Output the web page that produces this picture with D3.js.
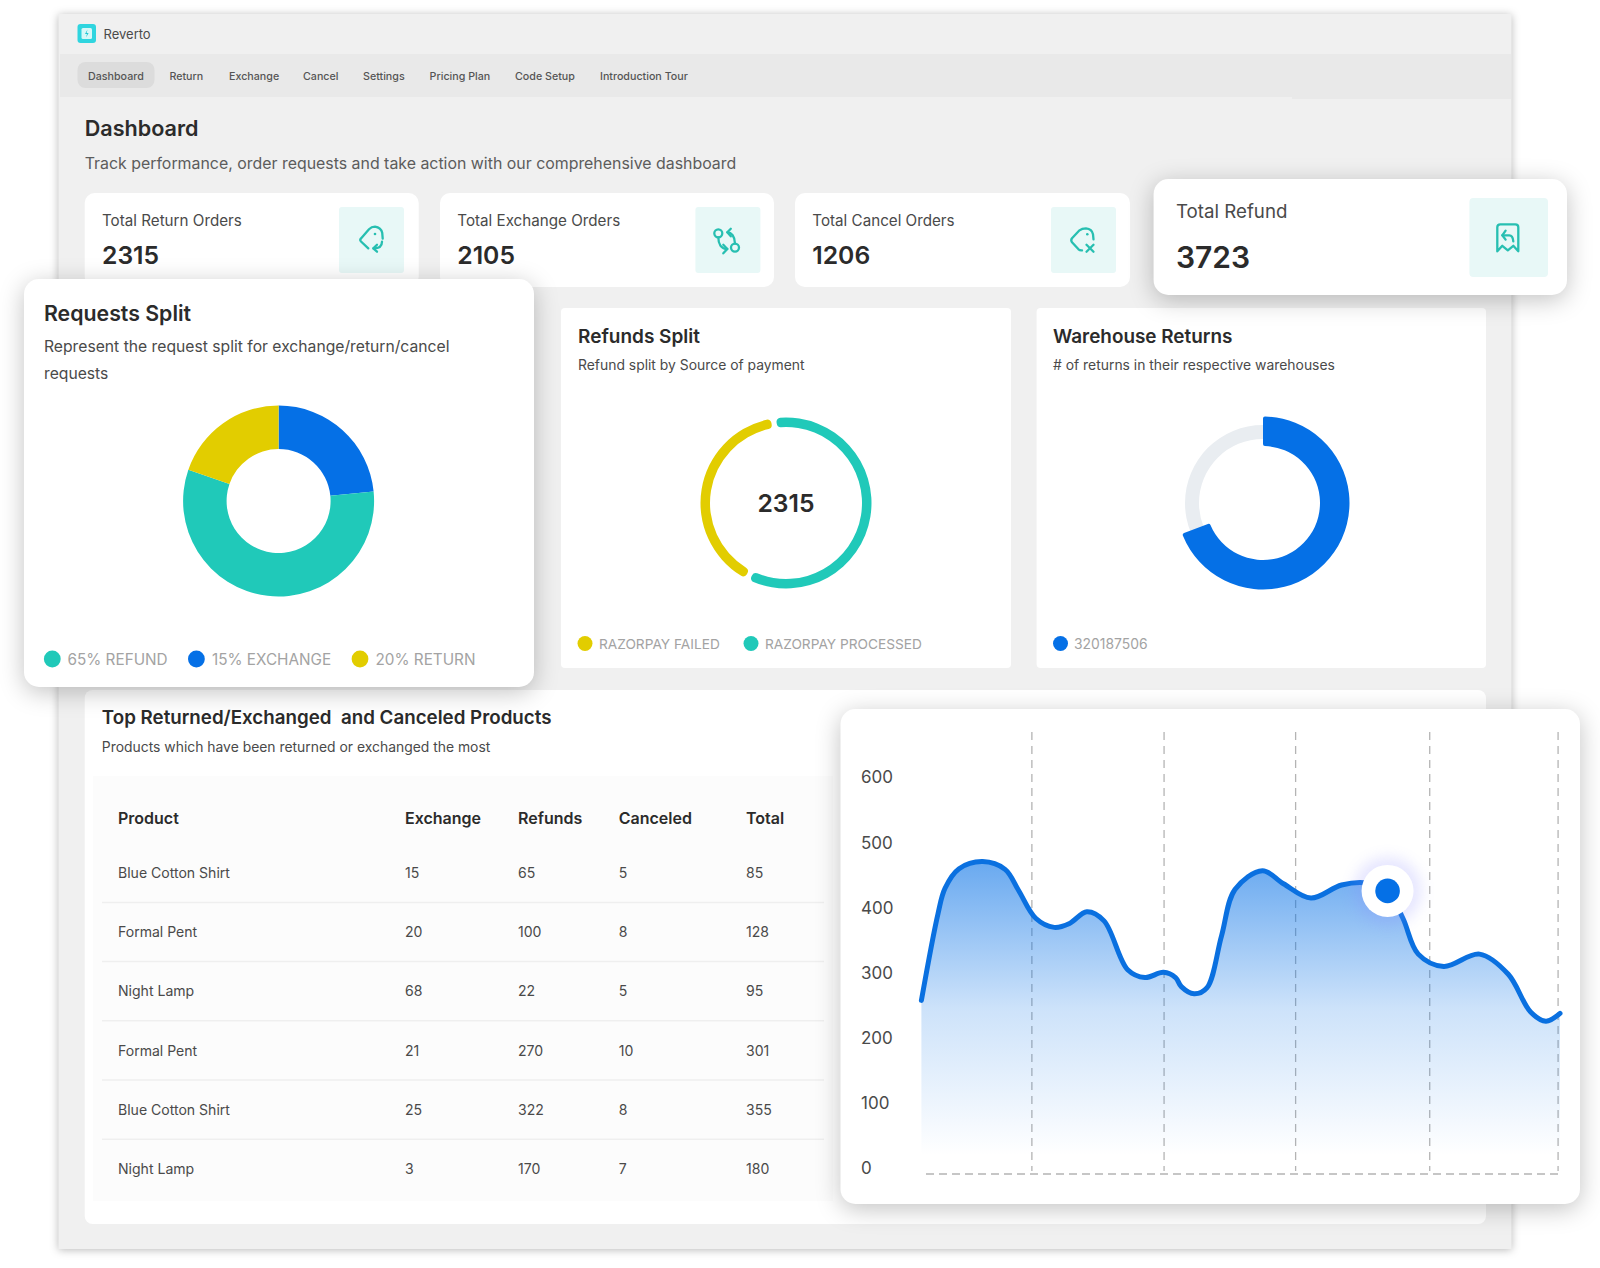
<!DOCTYPE html>
<html>
<head>
<meta charset="utf-8">
<script src="https://cdn.jsdelivr.net/npm/d3@7"></script>
<style>
    html, body { margin: 0; padding: 0; background: #fff; }
    svg { display: block; }
    text { font-family: Inter, "Noto Sans", sans-serif; }
</style>
</head>
<body>
<svg id="page" width="1600" height="1268"></svg>
<script>
// header nav
var navItems = ["Dashboard", "Return", "Exchange", "Cancel", "Settings", "Pricing Plan", "Code Setup", "Introduction Tour"];

// stat cards
var statLabels = ["Total Return Orders", "Total Exchange Orders", "Total Cancel Orders"];
var statValues = [2315, 2105, 1206];
var refundLabel = "Total Refund";
var refundValue = 3723;

// requests split donut (slice sizes as drawn, in percent of the ring)
var requestNames = ["Exchange", "Refund", "Return"];
var requestShares = [23.4, 56.9, 19.7];
var requestLegend = ["65% REFUND", "15% EXCHANGE", "20% RETURN"];

// refunds split ring
var refundNames = ["RAZORPAY PROCESSED", "RAZORPAY FAILED"];
var refundShares = [60, 40];
var refundTotal = 2315;
var refundLegend = ["RAZORPAY FAILED", "RAZORPAY PROCESSED"];

// warehouse returns ring
var warehouseId = "320187506";
var warehouseShare = 69.2;

// products table
var tableHeaders = ["Product", "Exchange", "Refunds", "Canceled", "Total"];
var tableProducts = ["Blue Cotton Shirt", "Formal Pent", "Night Lamp", "Formal Pent", "Blue Cotton Shirt", "Night Lamp"];
var tableExchange = [15, 20, 68, 21, 25, 3];
var tableRefunds = [65, 100, 22, 270, 322, 170];
var tableCanceled = [5, 8, 5, 10, 8, 7];
var tableTotal = [85, 128, 95, 301, 355, 180];

// area chart, x runs 0-100 along the plot width
var yTicks = [0, 100, 200, 300, 400, 500, 600];
var gridX = [17.3, 38, 58.6, 79.6, 99.7];
var areaX = [0, 2.6, 3.7, 5.9, 9.6, 13.1, 15.2, 17.9, 20.8, 23.2, 25.9, 28.6, 32.3, 35, 37.9, 39.8, 40.7, 42.7, 44.7,
    47, 49.1, 53.4, 56.7, 61, 65.8, 69.8, 73, 75.4, 77.8, 81.8, 87.4, 91.9, 95.4, 97.8, 100];
var areaY = [258, 391, 430, 460, 471, 459, 427, 384, 370, 376, 394, 380, 305, 293, 301, 293, 279, 268, 277,
    357, 428, 457, 437, 415, 435, 438, 426, 384, 329, 310, 329, 298, 240, 226, 238];
var markerIndex = 26;

var blue = "#0570e6", teal = "#20c9b9", yellow = "#e2cd00";
var dark = "#2b2b2b", mid = "#4a4a4a", soft = "#a3a3a3";

var svg = d3.select("#page");
var defs = svg.append("defs");

function addText(parent, x, y, str, size, weight, fill, anchor) {
    return parent.append("text")
        .attr("x", x)
        .attr("y", y)
        .attr("dominant-baseline", "central")
        .attr("text-anchor", anchor || "start")
        .style("font-size", size + "px")
        .style("font-weight", weight)
        .attr("fill", fill)
        .text(str);
}

function addCard(x, y, w, h, r, shadow) {
    var rect = svg.append("rect")
        .attr("x", x).attr("y", y)
        .attr("width", w).attr("height", h)
        .attr("rx", r)
        .attr("fill", "#fff");
    if(shadow) rect.style("filter", shadow);
    return rect;
}

var popShadow = "drop-shadow(0 5px 12px rgba(0,0,0,.24))";

// window frame
svg.append("rect")
    .attr("x", 58.5).attr("y", 14)
    .attr("width", 1453).attr("height", 1235)
    .attr("fill", "#f0f0f0")
    .style("filter", "drop-shadow(0 1px 4px rgba(0,0,0,.28))");

// nav band
svg.append("rect").attr("x", 60).attr("y", 54).attr("width", 1451).attr("height", 43).attr("fill", "#e9e9e9");
svg.append("rect").attr("x", 1292).attr("y", 97).attr("width", 219).attr("height", 2).attr("fill", "#e9e9e9");

// logo
svg.append("rect").attr("x", 77.5).attr("y", 24).attr("width", 18.5).attr("height", 19).attr("rx", 3).attr("fill", "#2fd5df");
svg.append("rect").attr("x", 81.5).attr("y", 28).attr("width", 10.5).attr("height", 11).attr("rx", 1.5).attr("fill", "#d8f8f8");
svg.append("path").attr("d", "M87.5 29.5 L85 34 H87 L86 37.5 L88.6 33 H86.6 Z").attr("fill", "#22c7d2");
addText(svg, 103.5, 33.5, "Reverto", 13, 400, mid);

// nav items
var navX = [88, 169.4, 229, 303, 363, 429.6, 515, 600];
svg.append("rect").attr("x", 77.5).attr("y", 62).attr("width", 77).attr("height", 26).attr("rx", 8).attr("fill", "#dcdcdc");
navItems.forEach(function(d, i) {
    addText(svg, navX[i], 76, d, 10.7, 500, "#555");
});

addText(svg, 84.7, 128, "Dashboard", 21.6, 600, dark);
addText(svg, 84.7, 163.4, "Track performance, order requests and take action with our comprehensive dashboard", 15.9, 400, "#5c5c5c");

// stat card icons, path data in a 24 unit box around the centre
var iconPaths = {
    tagReturn: ["M8.3 21.7 L1 14.8 Q-0.5 13.3 1 11.7 L9 2.5 Q11.5 0 15 0 Q21 1 22.2 6 L22.7 12", "M22 15 Q22 21.7 13.5 21.7", "M17 18 L13.3 21.7 L17 25"],
    swap: ["M5 9 C5 16 8 20.7 14 20.7", "M10 16.5 L14 20.7 L10 25", "M21.7 15.3 C21.7 8 18 4 14 4", "M17.5 0.5 L14 4 L17.5 8"],
    tagCancel: ["M11 22 Q9 22.3 7.5 21 L1 14 Q-0.5 12 1 10 L8.5 2 Q11 0 15 0 Q21 0.5 22 6 L22.5 11", "M15.5 16.5 L22.5 23.5", "M22.5 16.5 L15.5 23.5"],
    receipt: ["M0 25 V3 Q0 0 3 0 H18 Q21 0 21 3 V27 L16 21.5 L10.5 26 L5 21.5 L0 27 Z", "M8.3 6.3 L5 11 L8.3 15.3", "M5 11 H12 Q15.5 11 16 17"]
};
var iconDots = { tagReturn: [15, 7.3], swap: null, tagCancel: [16.3, 6], receipt: null };

function addIcon(name, cx, cy) {
    var g = svg.append("g").attr("transform", "translate(" + (cx - 12) + "," + (cy - 12) + ")");
    iconPaths[name].forEach(function(p) {
        g.append("path").attr("d", p).attr("fill", "none").attr("stroke", "#27bfb1")
            .attr("stroke-width", 2.3).attr("stroke-linecap", "round").attr("stroke-linejoin", "round");
    });
    if(iconDots[name]) g.append("circle").attr("cx", iconDots[name][0]).attr("cy", iconDots[name][1]).attr("r", 1.3).attr("fill", "#27bfb1");
    if(name === "swap") {
        g.append("circle").attr("cx", 5).attr("cy", 5).attr("r", 4).attr("fill", "none").attr("stroke", "#27bfb1").attr("stroke-width", 2.3);
        g.append("circle").attr("cx", 21.7).attr("cy", 19.3).attr("r", 4).attr("fill", "none").attr("stroke", "#27bfb1").attr("stroke-width", 2.3);
    }
}

// three plain stat cards
var statX = [84.7, 440, 795];
var statWidth = [334, 334, 335];
var statIconX = [339, 695.4, 1051];
var statIconNames = ["tagReturn", "swap", "tagCancel"];
var statIconCX = [372, 725.3, 1083];
var statIconCY = [238.7, 240.3, 240.3];
statLabels.forEach(function(d, i) {
    addCard(statX[i], 193, statWidth[i], 94, 10);
    svg.append("rect").attr("x", statIconX[i]).attr("y", 207).attr("width", 65).attr("height", 66).attr("rx", 3).attr("fill", "#e8f8f7");
    addIcon(statIconNames[i], statIconCX[i], statIconCY[i]);
    addText(svg, statX[i] + 17.3, 220, d, 15.2, 400, mid);
    addText(svg, statX[i] + 17.3, 255.3, statValues[i], 24.7, 600, dark);
});

// refunds split card
addCard(561, 308, 450, 360, 4);
addText(svg, 578, 336, "Refunds Split", 19, 600, dark);
addText(svg, 578, 365, "Refund split by Source of payment", 13.9, 400, mid);

var refundPie = d3.pie().sort(null)
    .startAngle(-8.5 * Math.PI / 180)
    .endAngle((360 - 8.5) * Math.PI / 180)
    .padAngle(0.045);
var refundArc = d3.arc().innerRadius(76).outerRadius(85.5).cornerRadius(4);
var refundG = svg.append("g").attr("transform", "translate(786,503)");
refundG.selectAll("path")
    .data(refundPie(refundShares))
    .enter().append("path")
    .attr("d", refundArc)
    .attr("fill", function(d, i) { return i === 0 ? teal : yellow; });
addText(refundG, 0, 0, refundTotal, 24.7, 600, dark, "middle");

svg.append("circle").attr("cx", 585).attr("cy", 643.5).attr("r", 7.5).attr("fill", yellow);
addText(svg, 599, 643.5, refundLegend[0], 13.7, 400, soft);
svg.append("circle").attr("cx", 751).attr("cy", 643.5).attr("r", 7.5).attr("fill", teal);
addText(svg, 765, 643.5, refundLegend[1], 13.7, 400, soft);

// warehouse returns card
addCard(1036.6, 308, 449.4, 360, 4);
addText(svg, 1053, 336, "Warehouse Returns", 18.9, 600, dark);
addText(svg, 1053, 365, "# of returns in their respective warehouses", 13.9, 400, mid);

var warehouseG = svg.append("g").attr("transform", "translate(1263,503)");
warehouseG.append("path")
    .attr("d", d3.arc().innerRadius(64).outerRadius(78).startAngle(0).endAngle(2 * Math.PI)())
    .attr("fill", "#e9edf1");
warehouseG.append("path")
    .attr("d", d3.arc().innerRadius(57).outerRadius(86.5).cornerRadius(2).startAngle(0).endAngle(warehouseShare / 100 * 2 * Math.PI)())
    .attr("fill", blue);

svg.append("circle").attr("cx", 1060.5).attr("cy", 643.5).attr("r", 7.5).attr("fill", blue);
addText(svg, 1074, 643.5, warehouseId, 13.9, 400, soft);

// products table
addCard(84.7, 690, 1401.3, 534, 8);
addText(svg, 101.8, 717.3, "Top Returned/Exchanged\u00a0 and Canceled Products", 18.75, 600, dark);
addText(svg, 101.8, 746.5, "Products which have been returned or exchanged the most", 13.9, 400, mid);
svg.append("rect").attr("x", 93).attr("y", 776).attr("width", 740).attr("height", 425).attr("fill", "#fcfcfc");

var colX = [118, 405, 518, 618.7, 746];
var rowY = d3.scalePoint().domain(d3.range(tableProducts.length)).range([872.4, 1168.4]);
tableHeaders.forEach(function(d, i) {
    addText(svg, colX[i], 818.2, d, 16, 600, dark);
});
tableProducts.forEach(function(d, i) {
    var y = rowY(i);
    addText(svg, colX[0], y, d, 14.05, 400, mid);
    addText(svg, colX[1], y, tableExchange[i], 14.05, 400, mid);
    addText(svg, colX[2], y, tableRefunds[i], 14.05, 400, mid);
    addText(svg, colX[3], y, tableCanceled[i], 14.05, 400, mid);
    addText(svg, colX[4], y, tableTotal[i], 14.05, 400, mid);
    if(i < tableProducts.length - 1) {
        svg.append("line").attr("x1", 102).attr("x2", 824)
            .attr("y1", y + 30).attr("y2", y + 30)
            .attr("stroke", "#efefef").attr("stroke-width", 1.5);
    }
});

// requests split card, floats over the frame
addCard(24, 279, 510, 408, 15, popShadow);
addText(svg, 44, 312.5, "Requests Split", 21.3, 600, dark);
addText(svg, 44, 346, "Represent the request split for exchange/return/cancel", 15.7, 400, mid);
addText(svg, 44, 373, "requests", 15.7, 400, mid);

var requestPie = d3.pie().sort(null);
var requestArc = d3.arc().innerRadius(52).outerRadius(95.5);
var requestColors = d3.scaleOrdinal().domain(requestNames).range([blue, teal, yellow]);
svg.append("g").attr("transform", "translate(278.6,501)")
    .selectAll("path")
    .data(requestPie(requestShares))
    .enter().append("path")
    .attr("d", requestArc)
    .attr("fill", function(d, i) { return requestColors(requestNames[i]); });

var requestDotX = [52.3, 196.4, 360];
var requestTextX = [67.5, 212, 375.5];
var requestDotColors = [teal, blue, yellow];
requestLegend.forEach(function(d, i) {
    svg.append("circle").attr("cx", requestDotX[i]).attr("cy", 659).attr("r", 8.4).attr("fill", requestDotColors[i]);
    addText(svg, requestTextX[i], 659, d, 15.3, 400, soft);
});

// total refund card
addCard(1153.6, 179, 413.4, 116, 15, popShadow);
svg.append("rect").attr("x", 1469.4).attr("y", 198).attr("width", 78.6).attr("height", 79).attr("rx", 4).attr("fill", "#e8f8f7");
addIcon("receipt", 1509.3, 236.3);
addText(svg, 1176, 211, refundLabel, 18.7, 400, mid);
addText(svg, 1176, 256.5, refundValue, 30, 600, dark);

// area chart card
addCard(840.5, 709, 739.5, 495, 15, popShadow);

var x = d3.scaleLinear().domain([0, 100]).range([921.4, 1560]);
var y = d3.scaleLinear().domain([0, 600]).range([1168.5, 777.5]);
var points = areaX.map(function(d, i) { return { x: d, y: areaY[i] }; });

var gradient = defs.append("linearGradient")
    .attr("id", "areaFill")
    .attr("gradientUnits", "userSpaceOnUse")
    .attr("x1", 0).attr("x2", 0)
    .attr("y1", y(470)).attr("y2", y(20));
gradient.append("stop").attr("offset", "0").attr("stop-color", blue).attr("stop-opacity", 0.6);
gradient.append("stop").attr("offset", "0.5").attr("stop-color", blue).attr("stop-opacity", 0.2);
gradient.append("stop").attr("offset", "1").attr("stop-color", blue).attr("stop-opacity", 0);

defs.append("filter").attr("id", "glow")
    .attr("x", "-60%").attr("y", "-60%").attr("width", "220%").attr("height", "220%")
    .append("feGaussianBlur").attr("stdDeviation", 7);

var yAxis = d3.axisLeft(y).tickValues(yTicks).tickSize(0);
var yAxisG = svg.append("g").attr("transform", "translate(861,0)").call(yAxis);
yAxisG.select(".domain").remove();
yAxisG.selectAll("text")
    .attr("x", 0)
    .attr("text-anchor", "start")
    .attr("fill", mid)
    .style("font-size", "17px")
    .style("font-family", "Inter, sans-serif");

svg.append("g").selectAll("line")
    .data(gridX)
    .enter().append("line")
    .attr("x1", function(d) { return x(d); })
    .attr("x2", function(d) { return x(d); })
    .attr("y1", 732).attr("y2", 1171)
    .attr("stroke", "#b4b4b4").attr("stroke-width", 1.3).attr("stroke-dasharray", "8,6");

svg.append("line")
    .attr("x1", 926).attr("x2", x(gridX[gridX.length - 1]))
    .attr("y1", 1174).attr("y2", 1174)
    .attr("stroke", "#b4b4b4").attr("stroke-width", 1.3).attr("stroke-dasharray", "8,5");

var areaGen = d3.area().curve(d3.curveCatmullRom.alpha(0.5))
    .x(function(d) { return x(d.x); })
    .y0(y(0) + 6)
    .y1(function(d) { return y(d.y); });
var lineGen = d3.line().curve(d3.curveCatmullRom.alpha(0.5))
    .x(function(d) { return x(d.x); })
    .y(function(d) { return y(d.y); });

svg.append("path").attr("d", areaGen(points)).attr("fill", "url(#areaFill)");
svg.append("path").attr("d", lineGen(points))
    .attr("fill", "none")
    .attr("stroke", "#0a70e0")
    .attr("stroke-width", 5)
    .attr("stroke-linecap", "round");

// highlighted point
var marker = points[markerIndex];
svg.append("circle").attr("cx", x(marker.x)).attr("cy", y(marker.y)).attr("r", 34).attr("fill", "#8d8dff").attr("opacity", 0.22).attr("filter", "url(#glow)");
svg.append("circle").attr("cx", x(marker.x)).attr("cy", y(marker.y)).attr("r", 26).attr("fill", "#fff");
svg.append("circle").attr("cx", x(marker.x)).attr("cy", y(marker.y)).attr("r", 12.3).attr("fill", blue);
</script>
</body>
</html>
